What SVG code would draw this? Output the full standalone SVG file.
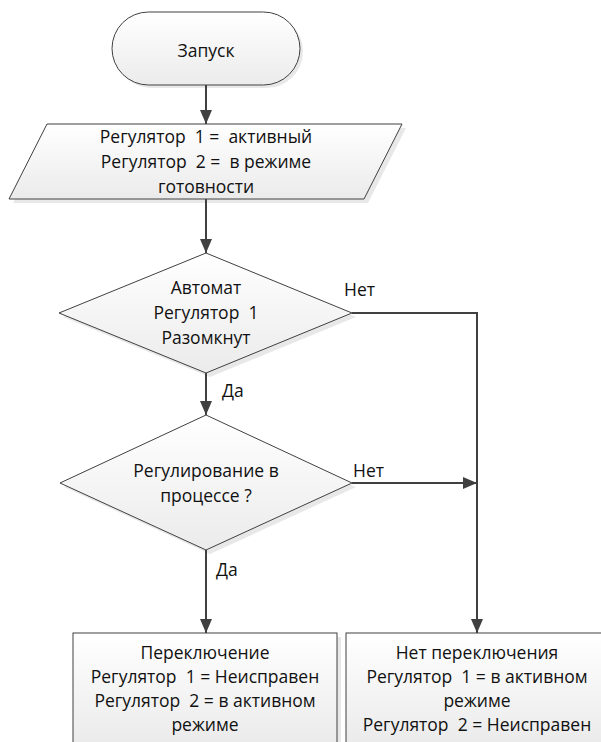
<svg xmlns="http://www.w3.org/2000/svg" width="601" height="742" viewBox="0 0 601 742">
<defs>
<linearGradient id="g" x1="0" y1="0" x2="0" y2="1">
<stop offset="0" stop-color="#ffffff"/>
<stop offset="1" stop-color="#ebebeb"/>
</linearGradient>
<marker id="ah" markerWidth="14" markerHeight="12" refX="14" refY="6" orient="auto" markerUnits="userSpaceOnUse">
<path d="M0,0 L14,6 L0,12 Z" fill="#404040"/>
</marker>
<style>
.s{fill:url(#g);stroke:#404040;stroke-width:1}
.sh{fill:#d9d9d9;opacity:0.6}
.t{font-family:"Open Sans","Liberation Sans",Arial,sans-serif;font-size:17.5px;fill:#111;text-anchor:middle;white-space:pre}
.l{font-family:"Open Sans","Liberation Sans",Arial,sans-serif;font-size:17.5px;fill:#111}
.c{fill:none;stroke:#404040;stroke-width:2}
</style>
</defs>
<rect width="601" height="742" fill="#ffffff"/>
<g id="start">
<rect class="sh" x="115" y="15" width="188" height="73" rx="36.5"/>
<rect class="s" x="112" y="12" width="188" height="73" rx="36.5"/>
<text class="t" x="206" y="57">Запуск</text>
</g>
<g id="init">
<polygon class="sh" points="51,128 406,128 368,203 13,203"/>
<polygon class="s" points="47,124 402,124 364,199 9,199"/>
<text class="t" x="206" y="143" xml:space="preserve">Регулятор  1 =  активный</text>
<text class="t" x="206" y="168" xml:space="preserve">Регулятор  2 =  в режиме</text>
<text class="t" x="206" y="193">готовности</text>
</g>
<g id="dec1">
<polygon class="sh" points="210,257 356,317 210,377 63,317"/>
<polygon class="s" points="206,253 352,313 206,373 59,313"/>
<text class="t" x="206" y="294">Автомат</text>
<text class="t" x="206" y="319" xml:space="preserve">Регулятор  1</text>
<text class="t" x="206" y="344">Разомкнут</text>
</g>
<g id="dec2">
<polygon class="sh" points="210,419 356,487 210,554 64,487"/>
<polygon class="s" points="206,415 352,483 206,550 60,483"/>
<text class="t" x="206" y="477">Регулирование в</text>
<text class="t" x="206" y="502">процессе ?</text>
</g>
<g id="switch">
<rect class="sh" x="77" y="637" width="264" height="110"/>
<rect class="s" x="73" y="633" width="264" height="110"/>
<text class="t" x="205" y="659">Переключение</text>
<text class="t" x="205" y="683" xml:space="preserve">Регулятор  1 = Неисправен</text>
<text class="t" x="205" y="707" xml:space="preserve">Регулятор  2 = в активном</text>
<text class="t" x="205" y="731">режиме</text>
</g>
<g id="noswitch">
<rect class="sh" x="350" y="637" width="260" height="110"/>
<rect class="s" x="346" y="633" width="260" height="110"/>
<text class="t" x="477" y="659">Нет переключения</text>
<text class="t" x="477" y="683" xml:space="preserve">Регулятор  1 = в активном</text>
<text class="t" x="477" y="707">режиме</text>
<text class="t" x="477" y="731" xml:space="preserve">Регулятор  2 = Неисправен</text>
</g>
<g id="connectors">
<line class="c" x1="206" y1="85" x2="206" y2="124" marker-end="url(#ah)"/>
<line class="c" x1="206" y1="199" x2="206" y2="253" marker-end="url(#ah)"/>
<line class="c" x1="206" y1="373" x2="206" y2="415" marker-end="url(#ah)"/>
<line class="c" x1="206" y1="550" x2="206" y2="633" marker-end="url(#ah)"/>
<polyline class="c" points="352,313 477,313 477,633" marker-end="url(#ah)"/>
<line class="c" x1="352" y1="483" x2="477" y2="483" marker-end="url(#ah)"/>
<text class="l" x="344" y="296">Нет</text>
<text class="l" x="353" y="477">Нет</text>
<text class="l" x="222" y="397">Да</text>
<text class="l" x="216" y="576">Да</text>
</g>
</svg>
